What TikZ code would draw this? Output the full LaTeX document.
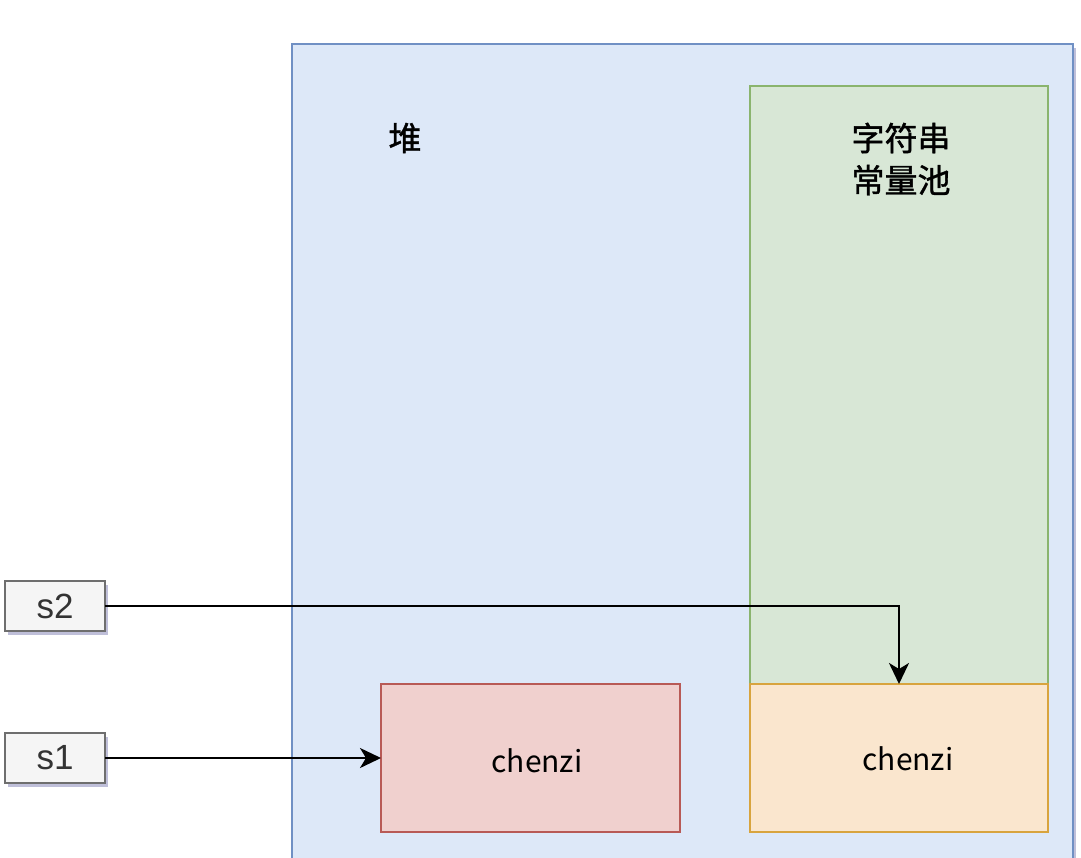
\documentclass[tikz,border=0pt]{standalone}
\usepackage{fontspec}
\setmainfont{Noto Sans CJK SC}
\newfontfamily\cjkb{Noto Sans CJK SC}[FakeBold=1.2]
\newfontfamily\lat{Liberation Sans}
\usetikzlibrary{arrows.meta,shadows}
\definecolor{heapfill}{HTML}{DDE8F8}
\definecolor{heapdraw}{HTML}{7090C4}
\definecolor{poolfill}{HTML}{D8E7D6}
\definecolor{pooldraw}{HTML}{8AB46E}
\definecolor{orfill}{HTML}{FAE6CE}
\definecolor{ordraw}{HTML}{D8A43E}
\definecolor{redfill}{HTML}{F0D0CE}
\definecolor{reddraw}{HTML}{B85A56}
\definecolor{varfill}{HTML}{F5F5F5}
\definecolor{vardraw}{HTML}{6E6E6E}
\tikzset{
  box/.style={draw, line width=2pt, inner sep=0pt, outer sep=0pt},
  shad/.style={drop shadow={shadow xshift=3pt, shadow yshift=-4pt, opacity=0.25, fill=black!60!blue}},
  conn/.style={line width=2.4pt, -{Stealth[length=21pt,width=20pt,inset=6pt]}},
  lbl/.style={font=\cjkb\fontsize{33}{42}\selectfont, align=center},
  ctext/.style={font=\fontsize{30}{32}\selectfont},
  var/.style={box, draw=vardraw, fill=varfill, shad, minimum width=100pt, minimum height=50pt, font=\lat\fontsize{35}{36}\selectfont, text=black!80},
}
\begin{document}
\begin{tikzpicture}[x=1pt,y=-1pt]
\useasboundingbox (0,0) rectangle (1081,857);
% heap
\path[box, draw=heapdraw, fill=heapfill, shad] (292,44) rectangle (1073,870);
\node[lbl] (heap) at (405,138) {堆};
% pool
\path[box, draw=pooldraw, fill=poolfill] (750,86) rectangle (1048,684);
\node[lbl] (pool) at (901,159) {字符串\\常量池};
% boxes
\node[box, draw=ordraw, fill=orfill, minimum width=298pt, minimum height=148pt] (c2) at (899,758) {};
\node[ctext] (t2) at (908,759) {chenzi};
\node[box, draw=reddraw, fill=redfill, minimum width=299pt, minimum height=148pt] (c1) at (530.5,758) {};
\node[ctext] (t1) at (537,761) {chenzi};
% variables
\node[var] (s2) at (55,606) {s2};
\node[var] (s1) at (55,758) {s1};
% connectors
\draw[conn] (s2.east) -| (c2.north);
\draw[conn] (s1.east) -- (c1.west);
\end{tikzpicture}
\end{document}
